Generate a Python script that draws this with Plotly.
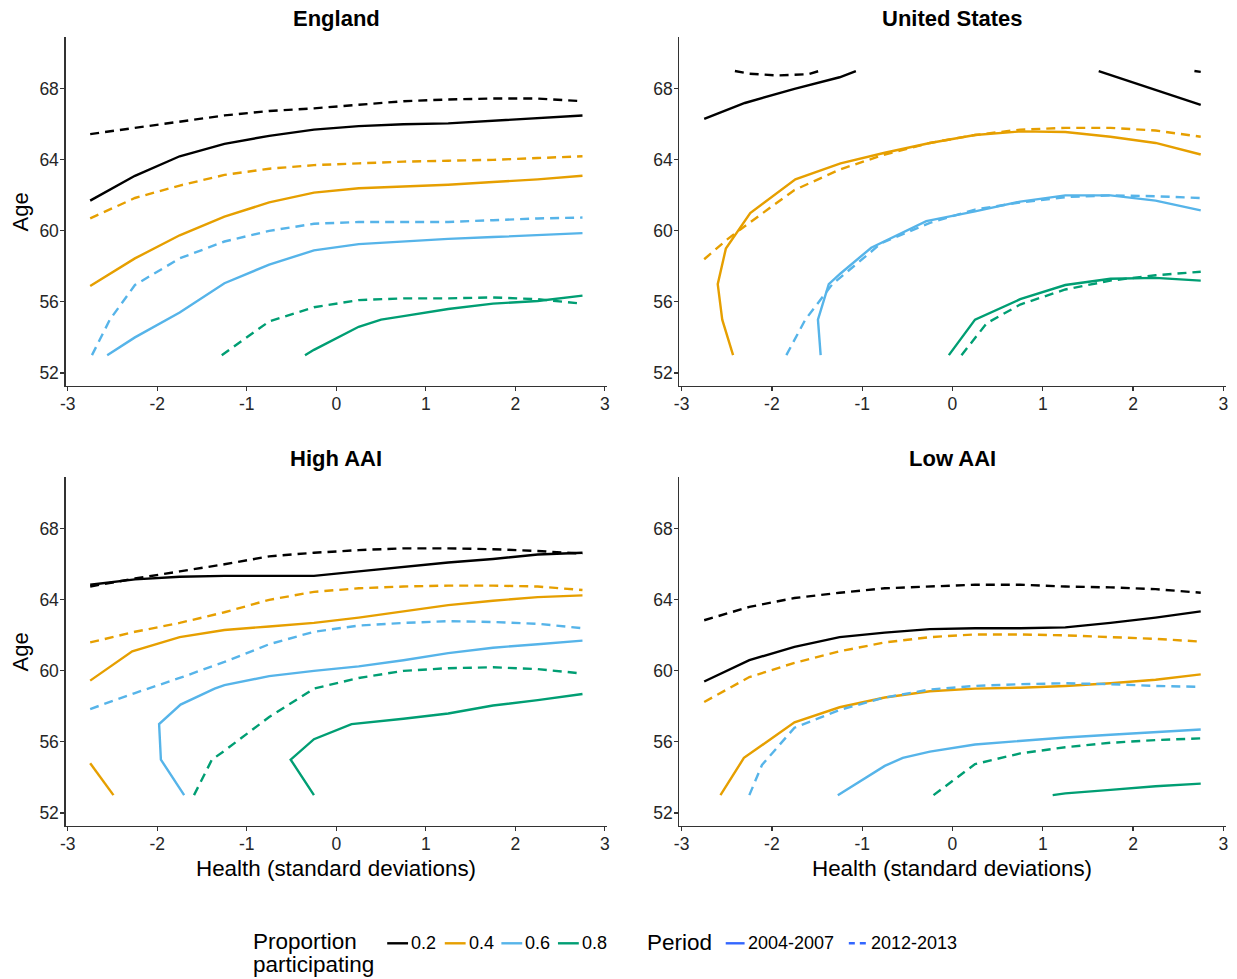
import plotly.graph_objects as go

FONT = "Liberation Sans, Arial, Helvetica, sans-serif"

# ---------------- tick labels ----------------
X_TICKS = [-3, -2, -1, 0, 1, 2, 3]
X_TICK_LABELS = ["-3", "-2", "-1", "0", "1", "2", "3"]
Y_TICKS = [52, 56, 60, 64, 68]
Y_TICK_LABELS = ["52", "56", "60", "64", "68"]

GRID = [-2.75, -2.25, -1.75, -1.25, -0.75, -0.25, 0.25, 0.75, 1.25, 1.75, 2.25, 2.75]

PANELS = ["England", "United States", "High AAI", "Low AAI"]
PROPORTIONS = ["0.2", "0.4", "0.6", "0.8"]
PERIODS = ["2004-2007", "2012-2013"]

# ---------------- England ----------------
ENG_02_A_X = GRID
ENG_02_A_Y = [61.7, 63.1, 64.2, 64.9, 65.35, 65.7, 65.9, 66.0, 66.05, 66.2, 66.35, 66.5]
ENG_02_B_X = GRID
ENG_02_B_Y = [65.45, 65.8, 66.15, 66.5, 66.75, 66.9, 67.1, 67.3, 67.4, 67.45, 67.45, 67.3]
ENG_04_A_X = GRID
ENG_04_A_Y = [56.9, 58.45, 59.75, 60.8, 61.6, 62.15, 62.4, 62.5, 62.6, 62.75, 62.9, 63.1]
ENG_04_B_X = GRID
ENG_04_B_Y = [60.7, 61.85, 62.55, 63.15, 63.5, 63.7, 63.8, 63.9, 63.95, 64.0, 64.1, 64.2]
ENG_06_A_X = [-2.56, -2.25, -1.75, -1.25, -0.75, -0.25, 0.25, 0.75, 1.25, 1.75, 2.25, 2.75]
ENG_06_A_Y = [53.0, 54.0, 55.4, 57.05, 58.1, 58.9, 59.25, 59.4, 59.55, 59.65, 59.75, 59.87]
ENG_06_B_X = [-2.73, -2.53, -2.25, -1.75, -1.25, -0.75, -0.25, 0.25, 0.75, 1.25, 1.75, 2.25, 2.75]
ENG_06_B_Y = [53.0, 55.0, 56.95, 58.45, 59.4, 60.0, 60.4, 60.5, 60.5, 60.5, 60.6, 60.7, 60.75]
ENG_08_A_X = [-0.35, -0.25, 0.25, 0.5, 0.75, 1.25, 1.75, 2.25, 2.75]
ENG_08_A_Y = [53.0, 53.3, 54.6, 55.0, 55.2, 55.6, 55.9, 56.05, 56.35]
ENG_08_B_X = [-1.28, -0.75, -0.25, 0.25, 0.75, 1.25, 1.75, 2.25, 2.75]
ENG_08_B_Y = [53.0, 54.9, 55.7, 56.1, 56.2, 56.2, 56.25, 56.15, 55.9]

# ---------------- United States ----------------
USA_02_A_X = [-2.75, -2.3, -1.75, -1.25, -1.07, None, 1.62, 2.25, 2.75]
USA_02_A_Y = [66.3, 67.2, 68.0, 68.65, 69.0, None, 69.0, 67.95, 67.1]
USA_02_B_X = [-2.41, -2.25, -1.94, -1.6, -1.48, None, 2.68, 2.75]
USA_02_B_Y = [69.0, 68.85, 68.75, 68.82, 69.0, None, 69.0, 68.95]
USA_04_A_X = [-2.43, -2.55, -2.6, -2.51, -2.24, -1.74, -1.24, -0.75, -0.25, 0.25, 0.75, 1.25, 1.75, 2.25, 2.75]
USA_04_A_Y = [53.0, 55.0, 57.0, 59.0, 61.0, 62.9, 63.8, 64.4, 64.95, 65.4, 65.6, 65.57, 65.3, 64.95, 64.3]
USA_04_B_X = [-2.75, -2.5, -2.25, -1.75, -1.25, -0.75, -0.25, 0.25, 0.75, 1.25, 1.75, 2.25, 2.75]
USA_04_B_Y = [58.4, 59.5, 60.45, 62.3, 63.45, 64.3, 64.95, 65.4, 65.7, 65.8, 65.8, 65.65, 65.3]
USA_06_A_X = [-1.46, -1.49, -1.37, -1.24, -0.9, -0.29, 0.25, 0.75, 1.25, 1.75, 2.25, 2.75]
USA_06_A_Y = [53.0, 55.0, 57.0, 57.6, 59.05, 60.55, 61.1, 61.65, 62.0, 62.0, 61.7, 61.15]
USA_06_B_X = [-1.84, -1.63, -1.33, -0.79, -0.25, 0.25, 0.75, 1.25, 1.75, 2.25, 2.75]
USA_06_B_Y = [53.0, 55.0, 57.0, 59.3, 60.45, 61.2, 61.6, 61.9, 62.0, 61.95, 61.85]
USA_08_A_X = [-0.04, 0.25, 0.75, 1.25, 1.75, 2.25, 2.75]
USA_08_A_Y = [53.0, 55.0, 56.15, 56.95, 57.3, 57.35, 57.2]
USA_08_B_X = [0.1, 0.38, 0.75, 1.25, 1.75, 2.25, 2.75]
USA_08_B_Y = [53.0, 54.8, 55.85, 56.7, 57.2, 57.5, 57.7]

# ---------------- High AAI ----------------
HAI_02_A_X = GRID
HAI_02_A_Y = [64.85, 65.15, 65.3, 65.35, 65.35, 65.35, 65.6, 65.85, 66.1, 66.3, 66.55, 66.65]
HAI_02_B_X = GRID
HAI_02_B_Y = [64.75, 65.2, 65.6, 66.0, 66.45, 66.65, 66.8, 66.9, 66.9, 66.85, 66.75, 66.6]
HAI_04_A_X = [-2.75, -2.49, None, -2.75, -2.28, -1.75, -1.25, -0.75, -0.25, 0.25, 0.75, 1.25, 1.75, 2.25, 2.75]
HAI_04_A_Y = [54.8, 53.0, None, 59.45, 61.1, 61.9, 62.3, 62.5, 62.7, 63.0, 63.35, 63.7, 63.95, 64.15, 64.25]
HAI_04_B_X = GRID
HAI_04_B_Y = [61.6, 62.2, 62.7, 63.3, 64.0, 64.45, 64.65, 64.75, 64.8, 64.8, 64.75, 64.55]
HAI_06_A_X = [-1.70, -1.96, -1.98, -1.74, -1.36, -1.25, -0.75, -0.25, 0.25, 0.75, 1.25, 1.75, 2.25, 2.75]
HAI_06_A_Y = [53.0, 55.0, 57.0, 58.1, 59.0, 59.2, 59.7, 60.0, 60.25, 60.6, 61.0, 61.3, 61.5, 61.7]
HAI_06_B_X = GRID
HAI_06_B_Y = [57.85, 58.75, 59.6, 60.5, 61.5, 62.2, 62.55, 62.7, 62.8, 62.75, 62.65, 62.4]
HAI_08_A_X = [-0.25, -0.51, -0.25, 0.17, 0.75, 1.25, 1.75, 2.25, 2.75]
HAI_08_A_Y = [53.0, 55.0, 56.15, 57.0, 57.3, 57.6, 58.05, 58.35, 58.7]
HAI_08_B_X = [-1.59, -1.39, -1.25, -0.75, -0.25, 0.25, 0.75, 1.25, 1.75, 2.25, 2.75]
HAI_08_B_Y = [53.0, 55.0, 55.5, 57.4, 59.0, 59.6, 60.0, 60.15, 60.2, 60.1, 59.85]

# ---------------- Low AAI ----------------
LAI_02_A_X = GRID
LAI_02_A_Y = [59.4, 60.6, 61.35, 61.9, 62.15, 62.35, 62.4, 62.4, 62.45, 62.7, 63.0, 63.35]
LAI_02_B_X = GRID
LAI_02_B_Y = [62.85, 63.6, 64.1, 64.4, 64.65, 64.75, 64.85, 64.85, 64.75, 64.7, 64.6, 64.4]
LAI_04_A_X = [-2.57, -2.31, -1.75, -1.25, -0.75, -0.25, 0.25, 0.75, 1.25, 1.75, 2.25, 2.75]
LAI_04_A_Y = [53.0, 55.1, 57.1, 57.95, 58.5, 58.85, 59.0, 59.05, 59.15, 59.3, 59.5, 59.8]
LAI_04_B_X = GRID
LAI_04_B_Y = [58.25, 59.65, 60.45, 61.1, 61.6, 61.9, 62.05, 62.05, 62.0, 61.9, 61.8, 61.65]
LAI_06_A_X = [-1.27, -0.75, -0.55, -0.25, 0.25, 0.75, 1.25, 1.75, 2.25, 2.75]
LAI_06_A_Y = [53.0, 54.65, 55.1, 55.45, 55.85, 56.05, 56.25, 56.4, 56.55, 56.7]
LAI_06_B_X = [-2.25, -2.11, -1.75, -1.25, -0.75, -0.25, 0.25, 0.75, 1.25, 1.75, 2.25, 2.75]
LAI_06_B_Y = [53.0, 54.7, 56.8, 57.8, 58.5, 58.95, 59.15, 59.25, 59.3, 59.25, 59.15, 59.1]
LAI_08_A_X = [1.11, 1.25, 1.75, 2.25, 2.75]
LAI_08_A_Y = [53.0, 53.1, 53.3, 53.5, 53.65]
LAI_08_B_X = [-0.21, 0.25, 0.75, 1.25, 1.75, 2.25, 2.75]
LAI_08_B_Y = [53.0, 54.75, 55.35, 55.7, 55.95, 56.1, 56.2]

# ---------------- styling ----------------
COLORS = {"0.2": "#000000", "0.4": "#E69F00", "0.6": "#56B4E9", "0.8": "#009E73"}
DASHES = {"2004-2007": "solid", "2012-2013": "9px,6px"}
PERIOD_KEY_COLOR = "#3366FF"
AXIS_COLOR = "#333333"
W, H = 1237, 979

SERIES = {
    "England": {
        ("0.2", "2004-2007"): (ENG_02_A_X, ENG_02_A_Y), ("0.2", "2012-2013"): (ENG_02_B_X, ENG_02_B_Y),
        ("0.4", "2004-2007"): (ENG_04_A_X, ENG_04_A_Y), ("0.4", "2012-2013"): (ENG_04_B_X, ENG_04_B_Y),
        ("0.6", "2004-2007"): (ENG_06_A_X, ENG_06_A_Y), ("0.6", "2012-2013"): (ENG_06_B_X, ENG_06_B_Y),
        ("0.8", "2004-2007"): (ENG_08_A_X, ENG_08_A_Y), ("0.8", "2012-2013"): (ENG_08_B_X, ENG_08_B_Y),
    },
    "United States": {
        ("0.2", "2004-2007"): (USA_02_A_X, USA_02_A_Y), ("0.2", "2012-2013"): (USA_02_B_X, USA_02_B_Y),
        ("0.4", "2004-2007"): (USA_04_A_X, USA_04_A_Y), ("0.4", "2012-2013"): (USA_04_B_X, USA_04_B_Y),
        ("0.6", "2004-2007"): (USA_06_A_X, USA_06_A_Y), ("0.6", "2012-2013"): (USA_06_B_X, USA_06_B_Y),
        ("0.8", "2004-2007"): (USA_08_A_X, USA_08_A_Y), ("0.8", "2012-2013"): (USA_08_B_X, USA_08_B_Y),
    },
    "High AAI": {
        ("0.2", "2004-2007"): (HAI_02_A_X, HAI_02_A_Y), ("0.2", "2012-2013"): (HAI_02_B_X, HAI_02_B_Y),
        ("0.4", "2004-2007"): (HAI_04_A_X, HAI_04_A_Y), ("0.4", "2012-2013"): (HAI_04_B_X, HAI_04_B_Y),
        ("0.6", "2004-2007"): (HAI_06_A_X, HAI_06_A_Y), ("0.6", "2012-2013"): (HAI_06_B_X, HAI_06_B_Y),
        ("0.8", "2004-2007"): (HAI_08_A_X, HAI_08_A_Y), ("0.8", "2012-2013"): (HAI_08_B_X, HAI_08_B_Y),
    },
    "Low AAI": {
        ("0.2", "2004-2007"): (LAI_02_A_X, LAI_02_A_Y), ("0.2", "2012-2013"): (LAI_02_B_X, LAI_02_B_Y),
        ("0.4", "2004-2007"): (LAI_04_A_X, LAI_04_A_Y), ("0.4", "2012-2013"): (LAI_04_B_X, LAI_04_B_Y),
        ("0.6", "2004-2007"): (LAI_06_A_X, LAI_06_A_Y), ("0.6", "2012-2013"): (LAI_06_B_X, LAI_06_B_Y),
        ("0.8", "2004-2007"): (LAI_08_A_X, LAI_08_A_Y), ("0.8", "2012-2013"): (LAI_08_B_X, LAI_08_B_Y),
    },
}

# panel placement in pixels: (left, right, top, bottom)
PANEL_PX = {
    "England": (60.0, 605.5, 37.3, 385.7),
    "United States": (678.3, 1228.5, 37.3, 385.7),
    "High AAI": (60.0, 605.5, 477.3, 825.7),
    "Low AAI": (678.3, 1228.5, 477.3, 825.7),
}

fig = go.Figure()
annotations = []
shapes = []

def px_x(p):
    return p / W

def px_y(p):
    return 1 - p / H

for i, panel in enumerate(PANELS):
    n = i + 1
    xa = "x" if n == 1 else f"x{n}"
    ya = "y" if n == 1 else f"y{n}"
    for (prop, period), (xs, ys) in SERIES[panel].items():
        fig.add_trace(go.Scatter(
            x=xs, y=ys, mode="lines", xaxis=xa, yaxis=ya,
            line=dict(color=COLORS[prop], width=2.4, dash=DASHES[period]),
            connectgaps=False, showlegend=False,
            name=f"{prop} {period}", hoverinfo="skip",
        ))
    l, r, t, b = PANEL_PX[panel]
    axis_common = dict(
        showline=True, linecolor=AXIS_COLOR, linewidth=1.2,
        ticks="outside", ticklen=4, tickwidth=1.2, tickcolor=AXIS_COLOR,
        showgrid=False, zeroline=False, ticklabelstandoff=-2,
        tickfont=dict(family=FONT, size=17.5, color="#262626"),
    )
    fig.layout[f"xaxis{'' if n == 1 else n}"] = dict(
        axis_common, domain=[px_x(l), px_x(r)], range=[-3.025, 3.025],
        tickvals=X_TICKS, ticktext=X_TICK_LABELS, anchor=ya,
    )
    fig.layout[f"yaxis{'' if n == 1 else n}"] = dict(
        axis_common, domain=[px_y(b), px_y(t)], range=[51.28, 70.9],
        tickvals=Y_TICKS, ticktext=Y_TICK_LABELS, anchor=xa,
    )
    # panel title
    annotations.append(dict(
        text=f"<b>{panel}</b>", x=px_x((l + r) / 2), y=px_y(t - 18.5),
        xref="paper", yref="paper", xanchor="center", yanchor="middle",
        showarrow=False, font=dict(family=FONT, size=22, color="#000000"),
    ))
    # y title on left panels
    if panel in ("England", "High AAI"):
        annotations.append(dict(
            text="Age", x=px_x(15), y=px_y((t + b) / 2), textangle=-90,
            xref="paper", yref="paper", xanchor="center", yanchor="middle",
            showarrow=False, font=dict(family=FONT, size=22, color="#000000"),
        ))
    # x title on bottom panels
    if panel in ("High AAI", "Low AAI"):
        annotations.append(dict(
            text="Health (standard deviations)", x=px_x((l + r) / 2), y=px_y(868.5),
            xref="paper", yref="paper", xanchor="center", yanchor="middle",
            showarrow=False, font=dict(family=FONT, size=22.4, color="#000000"),
        ))

# ---------------- legend (drawn manually) ----------------
KEY_Y = 943.3
annotations.append(dict(text="Proportion", x=px_x(247), y=px_y(941), xref="paper", yref="paper",
                        xanchor="left", yanchor="middle", showarrow=False,
                        font=dict(family=FONT, size=22.5, color="#000000")))
annotations.append(dict(text="participating", x=px_x(247), y=px_y(964), xref="paper", yref="paper",
                        xanchor="left", yanchor="middle", showarrow=False,
                        font=dict(family=FONT, size=22.5, color="#000000")))
PROP_KEY_X = [384, 442, 499, 556]
for prop, kx in zip(PROPORTIONS, PROP_KEY_X):
    shapes.append(dict(type="line", xref="paper", yref="paper",
                       x0=px_x(kx), x1=px_x(kx + 21), y0=px_y(KEY_Y), y1=px_y(KEY_Y),
                       line=dict(color=COLORS[prop], width=2.4)))
    annotations.append(dict(text=prop, x=px_x(kx + 22), y=px_y(KEY_Y), xref="paper", yref="paper",
                            xanchor="left", yanchor="middle", showarrow=False,
                            font=dict(family=FONT, size=18, color="#000000")))
annotations.append(dict(text="Period", x=px_x(644), y=px_y(KEY_Y - 1), xref="paper", yref="paper",
                        xanchor="left", yanchor="middle", showarrow=False,
                        font=dict(family=FONT, size=22.5, color="#000000")))
PERIOD_KEY_X = [725, 849]
for period, kx in zip(PERIODS, PERIOD_KEY_X):
    shapes.append(dict(type="line", xref="paper", yref="paper",
                       x0=px_x(kx), x1=px_x(kx + 19), y0=px_y(KEY_Y), y1=px_y(KEY_Y),
                       line=dict(color=PERIOD_KEY_COLOR, width=2.4,
                                 dash="solid" if period == "2004-2007" else "6px,5px")))
    annotations.append(dict(text=period, x=px_x(kx + 20), y=px_y(KEY_Y), xref="paper", yref="paper",
                            xanchor="left", yanchor="middle", showarrow=False,
                            font=dict(family=FONT, size=18, color="#000000")))

fig.update_layout(
    width=W, height=H, autosize=False,
    margin=dict(l=0, r=0, t=0, b=0),
    paper_bgcolor="white", plot_bgcolor="white",
    font=dict(family=FONT, color="#000000"),
    annotations=annotations, shapes=shapes,
    showlegend=False,
)

fig.write_html(
    "out.html",
    config={"displayModeBar": False, "staticPlot": True},
    post_script="document.body.style.margin='0';document.body.style.padding='0';document.body.style.overflow='hidden';",
)
